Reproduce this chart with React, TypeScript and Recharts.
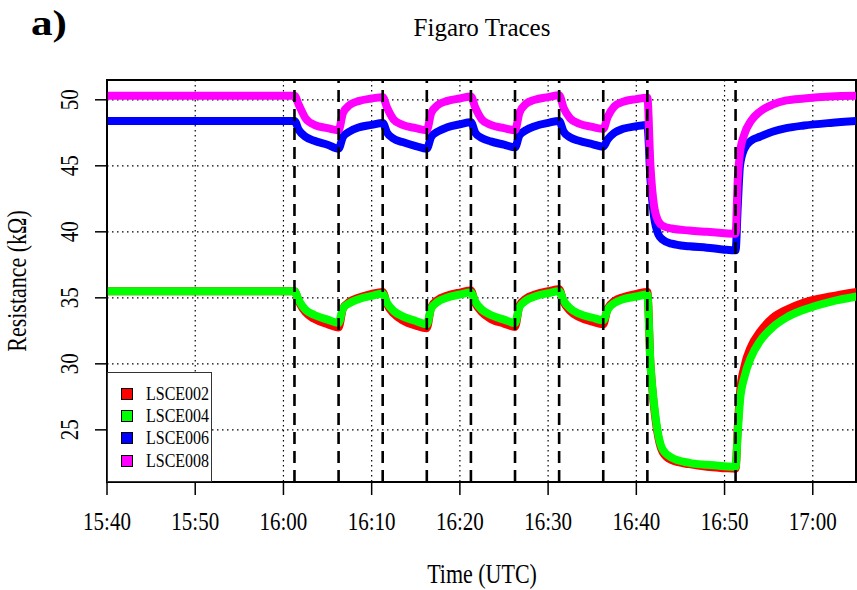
import React from 'react';
import {
  LineChart,
  Line,
  XAxis,
  YAxis,
  CartesianGrid,
  ReferenceLine,
  ReferenceArea,
  Legend,
} from 'recharts';

const FONT = '"Liberation Serif", "Times New Roman", Times, serif';

// minutes after 15:40 UTC
const times = [
  0, 10, 20,
  21.25, 21.75, 22.5, 23.5, 25,
  26.25, 26.75, 27.5, 28.5, 30,
  31.25, 31.75, 32.5, 33.5, 35,
  36.25, 36.75, 37.5, 38.5, 40,
  41.25, 41.75, 42.5, 43.5, 45,
  46.25, 46.75, 47.5, 48.5, 50,
  51.25, 51.75, 52.5, 53.5, 55,
  56.25, 56.75, 57.5, 58.5, 60,
  61.25, 61.6, 62, 62.5, 63, 64, 66, 68, 70,
  71.25, 71.5, 71.75, 72.25, 73, 74, 75.5, 77, 79, 82, 85,
];

const lsce002 = [
  35.5, 35.5, 35.5,
  35.5, 34.7, 33.9, 33.4, 33.0,
  32.75, 34.2, 34.7, 35.0, 35.3,
  35.45, 34.5, 33.8, 33.3, 32.9,
  32.7, 34.3, 34.85, 35.15, 35.4,
  35.55, 34.6, 33.9, 33.4, 33.05,
  32.8, 34.4, 34.95, 35.25, 35.5,
  35.65, 34.7, 34.0, 33.55, 33.2,
  33.0, 34.2, 34.75, 35.05, 35.3,
  35.45, 30.0, 26.8, 24.4, 23.3, 22.7, 22.4, 22.2, 22.1,
  22.05, 25.2, 27.8, 29.8, 31.3, 32.4, 33.5, 34.1, 34.65, 35.1, 35.45,
];

const lsce004 = [
  35.5, 35.5, 35.5,
  35.5, 34.8, 34.1, 33.7, 33.35,
  33.1, 34.2, 34.6, 34.9, 35.15,
  35.3, 34.6, 34.0, 33.6, 33.25,
  33.0, 34.2, 34.7, 35.0, 35.25,
  35.4, 34.7, 34.1, 33.7, 33.35,
  33.1, 34.3, 34.8, 35.1, 35.35,
  35.5, 34.8, 34.2, 33.8, 33.5,
  33.3, 34.1, 34.6, 34.9, 35.1,
  35.25, 30.0, 27.0, 24.6, 23.5, 22.9, 22.5, 22.35, 22.25,
  22.2, 24.8, 27.2, 29.0, 30.5, 31.7, 32.8, 33.5, 34.1, 34.7, 35.1,
];

const lsce006 = [
  48.4, 48.4, 48.4,
  48.4, 47.7, 47.2, 46.9, 46.6,
  46.3, 47.2, 47.6, 47.9, 48.1,
  48.25, 47.5, 47.05, 46.8, 46.5,
  46.3, 47.2, 47.6, 47.9, 48.15,
  48.3, 47.5, 47.1, 46.85, 46.6,
  46.4, 47.3, 47.7, 48.0, 48.25,
  48.4, 47.6, 47.15, 46.9, 46.65,
  46.45, 47.0, 47.5, 47.8, 48.0,
  48.1, 44.0, 41.2, 39.8, 39.4, 39.1, 38.9, 38.8, 38.65,
  38.6, 42.0, 45.0, 46.3, 46.9, 47.2, 47.6, 47.85, 48.05, 48.25, 48.4,
];

const lsce008 = [
  50.3, 50.3, 50.3,
  50.3, 49.6, 48.6, 48.1, 47.85,
  47.7, 49.0, 49.6, 49.9, 50.1,
  50.2, 49.4, 48.5, 48.1, 47.85,
  47.7, 49.0, 49.6, 49.9, 50.1,
  50.25, 49.4, 48.5, 48.1, 47.85,
  47.7, 49.0, 49.7, 50.0, 50.2,
  50.35, 49.4, 48.6, 48.2, 47.95,
  47.8, 48.7, 49.5, 49.85, 50.05,
  50.15, 45.0, 42.0, 40.8, 40.45, 40.25, 40.1, 40.0, 39.9,
  39.85, 44.0, 46.0, 47.4, 48.4, 49.1, 49.65, 49.95, 50.1, 50.25, 50.3,
];

const eventTimes = [21.25, 26.25, 31.25, 36.25, 41.25, 46.25, 51.25, 56.25, 61.25, 71.25];

const xTicks = [0, 10, 20, 30, 40, 50, 60, 70, 80];
const xTickLabels = ['15:40', '15:50', '16:00', '16:10', '16:20', '16:30', '16:40', '16:50', '17:00'];
const yTicks = [25, 30, 35, 40, 45, 50];

const seriesNames = ['LSCE002', 'LSCE004', 'LSCE006', 'LSCE008'];
const seriesColors = ['#ff0000', '#00ff00', '#0000ff', '#ff00ff'];
const seriesValues = [lsce002, lsce004, lsce006, lsce008];

const X_MAX = 84.9;
const Y_MIN = 21.05;
const Y_MAX = 51.5;

const data = times.map((t, i) => {
  const row: Record<string, number> = { t };
  seriesNames.forEach((n, k) => {
    row[n] = seriesValues[k][i];
  });
  return row;
});

const XTick = (props: any) => {
  const { x, y, payload } = props;
  const idx = xTicks.indexOf(payload.value);
  return (
    <text
      transform={`translate(${x},${y + 33}) scale(1,1.2)`}
      textAnchor="middle"
      fontFamily={FONT}
      fontSize={21}
      fill="#000"
    >
      {xTickLabels[idx]}
    </text>
  );
};

const YTick = (props: any) => {
  const { x, y, payload } = props;
  return (
    <text
      transform={`translate(${x - 15},${y}) rotate(-90) scale(1,1.2)`}
      textAnchor="middle"
      fontFamily={FONT}
      fontSize={21}
      fill="#000"
    >
      {payload.value}
    </text>
  );
};

const LegendBox = () => (
  <div
    style={{
      boxSizing: 'border-box',
      width: 105,
      height: 110,
      border: '1px solid #333',
      background: '#fff',
      position: 'relative',
      fontFamily: FONT,
    }}
  >
    {seriesNames.map((n, i) => (
      <div
        key={n}
        style={{
          position: 'absolute',
          left: 13,
          top: 10 + i * 22.2,
          height: 22,
          display: 'flex',
          alignItems: 'center',
          whiteSpace: 'nowrap',
        }}
      >
        <span
          style={{
            display: 'inline-block',
            boxSizing: 'border-box',
            width: 12,
            height: 12,
            background: seriesColors[i],
            border: '1px solid #000',
            marginRight: 13,
          }}
        />
        <span
          style={{
            display: 'inline-block',
            fontSize: 16,
            color: '#000',
            lineHeight: '22px',
            transform: 'scale(1,1.15)',
          }}
        >
          {n}
        </span>
      </div>
    ))}
  </div>
);

export default function App() {
  return (
    <div style={{ position: 'absolute', left: 0, top: 0, width: 857, height: 590, background: '#fff' }}>
      <LineChart
        width={857}
        height={590}
        data={data}
        margin={{ top: 80, right: 1, bottom: 0, left: 0 }}
      >
        <CartesianGrid stroke="#000" strokeWidth={1.2} strokeDasharray="1.5 3.5" />
        <XAxis
          dataKey="t"
          type="number"
          domain={[0, X_MAX]}
          ticks={xTicks}
          allowDataOverflow
          height={108}
          tickSize={13}
          tick={<XTick />}
          axisLine={{ stroke: '#000', strokeWidth: 1.5 }}
          tickLine={{ stroke: '#000', strokeWidth: 1.5 }}
          interval={0}
          label={{
            content: () => (
              <text
                transform="translate(482,583) scale(1,1.2)"
                textAnchor="middle"
                fontFamily={FONT}
                fontSize={22}
                fill="#000"
              >
                Time (UTC)
              </text>
            ),
          }}
        />
        <YAxis
          type="number"
          domain={[Y_MIN, Y_MAX]}
          ticks={yTicks}
          allowDataOverflow
          width={107}
          tickSize={12}
          tick={<YTick />}
          axisLine={{ stroke: '#000', strokeWidth: 1.5 }}
          tickLine={{ stroke: '#000', strokeWidth: 1.5 }}
          interval={0}
          label={{
            content: () => (
              <text
                transform="translate(26,281) rotate(-90) scale(1,1.2)"
                textAnchor="middle"
                fontFamily={FONT}
                fontSize={22}
                fill="#000"
              >
                Resistance (kΩ)
              </text>
            ),
          }}
        />
        {seriesNames.map((n, i) => (
          <Line
            key={n}
            type="monotone"
            dataKey={n}
            stroke={seriesColors[i]}
            strokeWidth={8}
            dot={false}
            activeDot={false}
            isAnimationActive={false}
            strokeLinejoin="round"
          />
        ))}
        {eventTimes.map((t) => (
          <ReferenceLine
            key={t}
            x={t}
            stroke="#000"
            strokeWidth={2.6}
            strokeDasharray="12 7"
          />
        ))}
        <ReferenceArea
          x1={0}
          x2={X_MAX}
          y1={Y_MIN}
          y2={Y_MAX}
          fill="none"
          fillOpacity={0}
          stroke="#000"
          strokeWidth={2}
          ifOverflow="extendDomain"
          label={{
            content: () => (
              <g>
                <text x={482} y={36} textAnchor="middle" fontFamily={FONT} fontSize={25} fill="#000">
                  Figaro Traces
                </text>
                <text
                  transform="translate(31,35) scale(1.2,1)"
                  fontFamily={FONT}
                  fontSize={36}
                  fontWeight="bold"
                  fill="#000"
                >
                  a)
                </text>
              </g>
            ),
          }}
        />
        <Legend
          layout="horizontal"
          verticalAlign="middle"
          align="center"
          wrapperStyle={{ position: 'absolute', left: 107, top: 372, width: 105, height: 110 }}
          content={() => <LegendBox />}
        />
      </LineChart>
    </div>
  );
}
